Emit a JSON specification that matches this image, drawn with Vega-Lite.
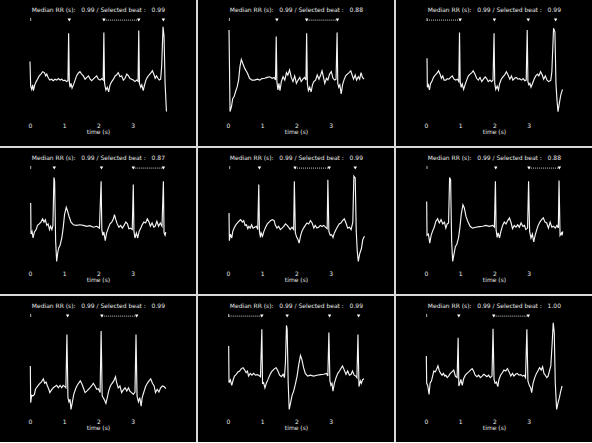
{
"$schema": "https://vega.github.io/schema/vega-lite/v6.json",
"padding": 0,
"background": "#d9d9d9",
"config": {"view": {"fill": "black", "stroke": null}, "font": "DejaVu Sans", "header": {"labels": false, "title": null, "labelFontSize": 0, "labelPadding": 0, "titlePadding": 0}},
"spacing": 2,
"columns": 3,
"data": {"values": [
{"p":1,"k":"l","t":2,"v":2.17,"s":"Median RR (s):\u00a0\u00a0\u00a00.99 / Selected beat :\u00a0\u00a0\u00a00.99"},
{"p":2,"k":"l","t":2,"v":2.17,"s":"Median RR (s):\u00a0\u00a0\u00a00.99 / Selected beat :\u00a0\u00a0\u00a00.88"},
{"p":3,"k":"l","t":2,"v":2.17,"s":"Median RR (s):\u00a0\u00a0\u00a00.99 / Selected beat :\u00a0\u00a0\u00a00.99"},
{"p":4,"k":"l","t":2,"v":2.17,"s":"Median RR (s):\u00a0\u00a0\u00a00.99 / Selected beat :\u00a0\u00a0\u00a00.87"},
{"p":5,"k":"l","t":2,"v":2.17,"s":"Median RR (s):\u00a0\u00a0\u00a00.99 / Selected beat :\u00a0\u00a0\u00a00.99"},
{"p":6,"k":"l","t":2,"v":2.17,"s":"Median RR (s):\u00a0\u00a0\u00a00.99 / Selected beat :\u00a0\u00a0\u00a00.88"},
{"p":7,"k":"l","t":2,"v":2.17,"s":"Median RR (s):\u00a0\u00a0\u00a00.99 / Selected beat :\u00a0\u00a0\u00a00.99"},
{"p":8,"k":"l","t":2,"v":2.17,"s":"Median RR (s):\u00a0\u00a0\u00a00.99 / Selected beat :\u00a0\u00a0\u00a00.99"},
{"p":9,"k":"l","t":2,"v":2.17,"s":"Median RR (s):\u00a0\u00a0\u00a00.99 / Selected beat :\u00a0\u00a0\u00a01.00"},
{"p":1,"k":"s","t":0.02,"v":1.85},{"p":1,"k":"b","t":1.15,"v":1.83},{"p":1,"k":"b","t":2.16,"v":1.83},{"p":1,"k":"b","t":3.18,"v":1.83},{"p":1,"k":"b","t":3.9,"v":1.83},{"p":1,"k":"d","t":2.16,"t2":3.18,"v":1.83},
{"p":2,"k":"s","t":0.04,"v":1.85},{"p":2,"k":"b","t":1.43,"v":1.83},{"p":2,"k":"b","t":2.3,"v":1.83},{"p":2,"k":"b","t":3.2,"v":1.83},{"p":2,"k":"d","t":2.3,"t2":3.2,"v":1.83},
{"p":3,"k":"s","t":0.03,"v":1.85},{"p":3,"k":"b","t":1.0,"v":1.83},{"p":3,"k":"b","t":2.0,"v":1.83},{"p":3,"k":"b","t":2.99,"v":1.83},{"p":3,"k":"b","t":3.79,"v":1.83},{"p":3,"k":"d","t":0.03,"t2":1.0,"v":1.83},
{"p":4,"k":"s","t":0.02,"v":1.85},{"p":4,"k":"b","t":0.71,"v":1.83},{"p":4,"k":"b","t":2.09,"v":1.83},{"p":4,"k":"b","t":3.02,"v":1.83},{"p":4,"k":"b","t":3.9,"v":1.83},{"p":4,"k":"d","t":3.02,"t2":3.9,"v":1.83},
{"p":5,"k":"s","t":0.05,"v":1.85},{"p":5,"k":"b","t":0.92,"v":1.83},{"p":5,"k":"b","t":1.96,"v":1.83},{"p":5,"k":"b","t":2.96,"v":1.83},{"p":5,"k":"b","t":3.72,"v":1.83},{"p":5,"k":"d","t":1.96,"t2":2.96,"v":1.83},
{"p":6,"k":"s","t":0.03,"v":1.85},{"p":6,"k":"b","t":2.04,"v":1.83},{"p":6,"k":"b","t":3.01,"v":1.83},{"p":6,"k":"b","t":3.9,"v":1.83},{"p":6,"k":"d","t":3.01,"t2":3.9,"v":1.83},
{"p":7,"k":"s","t":0.02,"v":1.85},{"p":7,"k":"b","t":1.1,"v":1.83},{"p":7,"k":"b","t":2.1,"v":1.83},{"p":7,"k":"b","t":3.12,"v":1.83},{"p":7,"k":"d","t":2.1,"t2":3.12,"v":1.83},
{"p":8,"k":"s","t":0.02,"v":1.85},{"p":8,"k":"b","t":0.99,"v":1.83},{"p":8,"k":"b","t":1.73,"v":1.83},{"p":8,"k":"b","t":2.97,"v":1.83},{"p":8,"k":"b","t":3.82,"v":1.83},{"p":8,"k":"d","t":0.02,"t2":0.99,"v":1.83},
{"p":9,"k":"s","t":0.02,"v":1.85},{"p":9,"k":"b","t":0.96,"v":1.83},{"p":9,"k":"b","t":1.98,"v":1.83},{"p":9,"k":"b","t":2.99,"v":1.83},{"p":9,"k":"d","t":1.98,"t2":2.99,"v":1.83},
{"p":1,"k":"e","t":0.0,"v":0.45},{"p":1,"k":"e","t":0.02,"v":-0.37},{"p":1,"k":"e","t":0.05,"v":-0.48},{"p":1,"k":"e","t":0.08,"v":-0.33},{"p":1,"k":"e","t":0.10,"v":-0.52},{"p":1,"k":"e","t":0.14,"v":-0.33},{"p":1,"k":"e","t":0.18,"v":-0.22},{"p":1,"k":"e","t":0.22,"v":-0.14},{"p":1,"k":"e","t":0.27,"v":-0.03},{"p":1,"k":"e","t":0.32,"v":0.03},{"p":1,"k":"e","t":0.37,"v":0.11},{"p":1,"k":"e","t":0.42,"v":0.08},{"p":1,"k":"e","t":0.46,"v":-0.03},{"p":1,"k":"e","t":0.49,"v":0.03},{"p":1,"k":"e","t":0.54,"v":-0.11},{"p":1,"k":"e","t":0.58,"v":-0.17},{"p":1,"k":"e","t":0.63,"v":-0.14},{"p":1,"k":"e","t":0.68,"v":-0.19},{"p":1,"k":"e","t":0.73,"v":-0.14},{"p":1,"k":"e","t":0.78,"v":-0.17},{"p":1,"k":"e","t":0.83,"v":-0.12},{"p":1,"k":"e","t":0.88,"v":-0.17},{"p":1,"k":"e","t":0.93,"v":-0.14},{"p":1,"k":"e","t":0.97,"v":-0.19},{"p":1,"k":"e","t":1.02,"v":-0.17},{"p":1,"k":"e","t":1.07,"v":-0.22},{"p":1,"k":"e","t":1.11,"v":-0.19},{"p":1,"k":"e","t":1.13,"v":1.39},{"p":1,"k":"e","t":1.15,"v":-0.22},{"p":1,"k":"e","t":1.17,"v":-0.41},{"p":1,"k":"e","t":1.20,"v":-0.28},{"p":1,"k":"e","t":1.23,"v":-0.44},{"p":1,"k":"e","t":1.27,"v":-0.33},{"p":1,"k":"e","t":1.32,"v":-0.17},{"p":1,"k":"e","t":1.36,"v":-0.03},{"p":1,"k":"e","t":1.41,"v":0.06},{"p":1,"k":"e","t":1.46,"v":0.11},{"p":1,"k":"e","t":1.51,"v":0.03},{"p":1,"k":"e","t":1.56,"v":-0.03},{"p":1,"k":"e","t":1.61,"v":-0.14},{"p":1,"k":"e","t":1.66,"v":-0.08},{"p":1,"k":"e","t":1.71,"v":-0.03},{"p":1,"k":"e","t":1.75,"v":-0.12},{"p":1,"k":"e","t":1.80,"v":-0.19},{"p":1,"k":"e","t":1.85,"v":-0.14},{"p":1,"k":"e","t":1.90,"v":-0.08},{"p":1,"k":"e","t":1.95,"v":-0.03},{"p":1,"k":"e","t":2.00,"v":-0.14},{"p":1,"k":"e","t":2.05,"v":-0.17},{"p":1,"k":"e","t":2.10,"v":-0.12},{"p":1,"k":"e","t":2.14,"v":-0.17},{"p":1,"k":"e","t":2.16,"v":1.42},{"p":1,"k":"e","t":2.18,"v":-0.28},{"p":1,"k":"e","t":2.22,"v":-0.50},{"p":1,"k":"e","t":2.26,"v":-0.41},{"p":1,"k":"e","t":2.30,"v":-0.56},{"p":1,"k":"e","t":2.34,"v":-0.33},{"p":1,"k":"e","t":2.39,"v":-0.22},{"p":1,"k":"e","t":2.44,"v":-0.14},{"p":1,"k":"e","t":2.49,"v":-0.03},{"p":1,"k":"e","t":2.53,"v":0.00},{"p":1,"k":"e","t":2.58,"v":0.08},{"p":1,"k":"e","t":2.63,"v":-0.06},{"p":1,"k":"e","t":2.68,"v":-0.03},{"p":1,"k":"e","t":2.73,"v":-0.17},{"p":1,"k":"e","t":2.78,"v":-0.11},{"p":1,"k":"e","t":2.83,"v":0.03},{"p":1,"k":"e","t":2.88,"v":-0.03},{"p":1,"k":"e","t":2.92,"v":-0.11},{"p":1,"k":"e","t":2.97,"v":-0.14},{"p":1,"k":"e","t":3.02,"v":-0.17},{"p":1,"k":"e","t":3.07,"v":-0.22},{"p":1,"k":"e","t":3.12,"v":-0.17},{"p":1,"k":"e","t":3.16,"v":-0.21},{"p":1,"k":"e","t":3.18,"v":1.48},{"p":1,"k":"e","t":3.20,"v":-0.28},{"p":1,"k":"e","t":3.24,"v":-0.41},{"p":1,"k":"e","t":3.27,"v":-0.33},{"p":1,"k":"e","t":3.31,"v":-0.52},{"p":1,"k":"e","t":3.35,"v":-0.33},{"p":1,"k":"e","t":3.39,"v":-0.17},{"p":1,"k":"e","t":3.43,"v":-0.08},{"p":1,"k":"e","t":3.48,"v":0.00},{"p":1,"k":"e","t":3.53,"v":0.06},{"p":1,"k":"e","t":3.58,"v":0.14},{"p":1,"k":"e","t":3.63,"v":0.00},{"p":1,"k":"e","t":3.66,"v":-0.11},{"p":1,"k":"e","t":3.70,"v":-0.03},{"p":1,"k":"e","t":3.74,"v":-0.11},{"p":1,"k":"e","t":3.78,"v":-0.17},{"p":1,"k":"e","t":3.82,"v":-0.14},{"p":1,"k":"e","t":3.85,"v":0.28},{"p":1,"k":"e","t":3.89,"v":1.61},{"p":1,"k":"e","t":3.92,"v":1.28},{"p":1,"k":"e","t":3.95,"v":-0.28},{"p":1,"k":"e","t":3.99,"v":-1.22},
{"p":2,"k":"e","t":0.03,"v":1.5},{"p":2,"k":"e","t":0.06,"v":-1.22},{"p":2,"k":"e","t":0.10,"v":-1.06},{"p":2,"k":"e","t":0.14,"v":-0.78},{"p":2,"k":"e","t":0.18,"v":-0.72},{"p":2,"k":"e","t":0.22,"v":-0.56},{"p":2,"k":"e","t":0.27,"v":-0.39},{"p":2,"k":"e","t":0.31,"v":-0.17},{"p":2,"k":"e","t":0.35,"v":0.28},{"p":2,"k":"e","t":0.39,"v":0.52},{"p":2,"k":"e","t":0.43,"v":0.39},{"p":2,"k":"e","t":0.49,"v":0.22},{"p":2,"k":"e","t":0.57,"v":0.06},{"p":2,"k":"e","t":0.63,"v":-0.11},{"p":2,"k":"e","t":0.70,"v":-0.17},{"p":2,"k":"e","t":0.78,"v":-0.17},{"p":2,"k":"e","t":0.86,"v":-0.14},{"p":2,"k":"e","t":0.93,"v":-0.17},{"p":2,"k":"e","t":0.99,"v":-0.12},{"p":2,"k":"e","t":1.07,"v":-0.11},{"p":2,"k":"e","t":1.15,"v":-0.08},{"p":2,"k":"e","t":1.22,"v":-0.06},{"p":2,"k":"e","t":1.29,"v":-0.11},{"p":2,"k":"e","t":1.35,"v":-0.08},{"p":2,"k":"e","t":1.39,"v":-0.17},{"p":2,"k":"e","t":1.41,"v":1.28},{"p":2,"k":"e","t":1.43,"v":-0.22},{"p":2,"k":"e","t":1.46,"v":-0.50},{"p":2,"k":"e","t":1.49,"v":-0.28},{"p":2,"k":"e","t":1.52,"v":-0.52},{"p":2,"k":"e","t":1.56,"v":-0.22},{"p":2,"k":"e","t":1.61,"v":-0.06},{"p":2,"k":"e","t":1.66,"v":-0.17},{"p":2,"k":"e","t":1.71,"v":0.08},{"p":2,"k":"e","t":1.75,"v":0.00},{"p":2,"k":"e","t":1.80,"v":0.17},{"p":2,"k":"e","t":1.85,"v":-0.08},{"p":2,"k":"e","t":1.90,"v":-0.22},{"p":2,"k":"e","t":1.95,"v":-0.03},{"p":2,"k":"e","t":2.00,"v":-0.28},{"p":2,"k":"e","t":2.05,"v":-0.17},{"p":2,"k":"e","t":2.10,"v":-0.08},{"p":2,"k":"e","t":2.14,"v":-0.22},{"p":2,"k":"e","t":2.19,"v":-0.14},{"p":2,"k":"e","t":2.24,"v":-0.08},{"p":2,"k":"e","t":2.28,"v":-0.17},{"p":2,"k":"e","t":2.30,"v":1.39},{"p":2,"k":"e","t":2.32,"v":-0.28},{"p":2,"k":"e","t":2.35,"v":-0.52},{"p":2,"k":"e","t":2.39,"v":-0.41},{"p":2,"k":"e","t":2.43,"v":-0.56},{"p":2,"k":"e","t":2.47,"v":-0.33},{"p":2,"k":"e","t":2.51,"v":-0.22},{"p":2,"k":"e","t":2.56,"v":-0.17},{"p":2,"k":"e","t":2.61,"v":0.00},{"p":2,"k":"e","t":2.66,"v":-0.14},{"p":2,"k":"e","t":2.71,"v":0.00},{"p":2,"k":"e","t":2.75,"v":0.14},{"p":2,"k":"e","t":2.79,"v":-0.06},{"p":2,"k":"e","t":2.83,"v":-0.28},{"p":2,"k":"e","t":2.88,"v":-0.11},{"p":2,"k":"e","t":2.92,"v":-0.17},{"p":2,"k":"e","t":2.97,"v":0.03},{"p":2,"k":"e","t":3.02,"v":0.11},{"p":2,"k":"e","t":3.07,"v":-0.11},{"p":2,"k":"e","t":3.12,"v":-0.17},{"p":2,"k":"e","t":3.16,"v":-0.14},{"p":2,"k":"e","t":3.19,"v":1.42},{"p":2,"k":"e","t":3.21,"v":-0.28},{"p":2,"k":"e","t":3.24,"v":-0.41},{"p":2,"k":"e","t":3.27,"v":-0.33},{"p":2,"k":"e","t":3.31,"v":-0.63},{"p":2,"k":"e","t":3.35,"v":-0.33},{"p":2,"k":"e","t":3.39,"v":-0.17},{"p":2,"k":"e","t":3.44,"v":-0.03},{"p":2,"k":"e","t":3.49,"v":0.03},{"p":2,"k":"e","t":3.54,"v":0.08},{"p":2,"k":"e","t":3.59,"v":0.14},{"p":2,"k":"e","t":3.63,"v":0.00},{"p":2,"k":"e","t":3.67,"v":-0.14},{"p":2,"k":"e","t":3.72,"v":0.00},{"p":2,"k":"e","t":3.76,"v":-0.17},{"p":2,"k":"e","t":3.81,"v":-0.06},{"p":2,"k":"e","t":3.85,"v":-0.14},{"p":2,"k":"e","t":3.89,"v":0.08},{"p":2,"k":"e","t":3.93,"v":-0.08},{"p":2,"k":"e","t":3.98,"v":-0.14},
{"p":3,"k":"e","t":0.03,"v":0.56},{"p":3,"k":"e","t":0.04,"v":-0.41},{"p":3,"k":"e","t":0.07,"v":-0.33},{"p":3,"k":"e","t":0.10,"v":-0.50},{"p":3,"k":"e","t":0.13,"v":-0.30},{"p":3,"k":"e","t":0.18,"v":-0.19},{"p":3,"k":"e","t":0.22,"v":-0.08},{"p":3,"k":"e","t":0.27,"v":0.00},{"p":3,"k":"e","t":0.32,"v":0.06},{"p":3,"k":"e","t":0.37,"v":0.14},{"p":3,"k":"e","t":0.42,"v":0.00},{"p":3,"k":"e","t":0.45,"v":-0.11},{"p":3,"k":"e","t":0.49,"v":-0.03},{"p":3,"k":"e","t":0.53,"v":-0.17},{"p":3,"k":"e","t":0.58,"v":-0.17},{"p":3,"k":"e","t":0.62,"v":-0.12},{"p":3,"k":"e","t":0.67,"v":-0.14},{"p":3,"k":"e","t":0.72,"v":-0.08},{"p":3,"k":"e","t":0.77,"v":-0.03},{"p":3,"k":"e","t":0.82,"v":-0.14},{"p":3,"k":"e","t":0.87,"v":-0.17},{"p":3,"k":"e","t":0.92,"v":-0.14},{"p":3,"k":"e","t":0.96,"v":-0.22},{"p":3,"k":"e","t":0.98,"v":1.42},{"p":3,"k":"e","t":1.00,"v":-0.22},{"p":3,"k":"e","t":1.03,"v":-0.41},{"p":3,"k":"e","t":1.06,"v":-0.30},{"p":3,"k":"e","t":1.10,"v":-0.48},{"p":3,"k":"e","t":1.14,"v":-0.33},{"p":3,"k":"e","t":1.19,"v":-0.17},{"p":3,"k":"e","t":1.24,"v":-0.03},{"p":3,"k":"e","t":1.29,"v":0.03},{"p":3,"k":"e","t":1.34,"v":0.08},{"p":3,"k":"e","t":1.38,"v":0.14},{"p":3,"k":"e","t":1.43,"v":0.03},{"p":3,"k":"e","t":1.48,"v":-0.11},{"p":3,"k":"e","t":1.53,"v":-0.17},{"p":3,"k":"e","t":1.58,"v":-0.08},{"p":3,"k":"e","t":1.63,"v":-0.22},{"p":3,"k":"e","t":1.68,"v":-0.14},{"p":3,"k":"e","t":1.73,"v":-0.06},{"p":3,"k":"e","t":1.77,"v":-0.11},{"p":3,"k":"e","t":1.82,"v":-0.22},{"p":3,"k":"e","t":1.87,"v":-0.17},{"p":3,"k":"e","t":1.92,"v":-0.22},{"p":3,"k":"e","t":1.96,"v":-0.17},{"p":3,"k":"e","t":1.99,"v":1.39},{"p":3,"k":"e","t":2.01,"v":-0.28},{"p":3,"k":"e","t":2.04,"v":-0.48},{"p":3,"k":"e","t":2.08,"v":-0.37},{"p":3,"k":"e","t":2.12,"v":-0.50},{"p":3,"k":"e","t":2.15,"v":-0.30},{"p":3,"k":"e","t":2.20,"v":-0.14},{"p":3,"k":"e","t":2.25,"v":-0.06},{"p":3,"k":"e","t":2.30,"v":0.00},{"p":3,"k":"e","t":2.35,"v":0.11},{"p":3,"k":"e","t":2.40,"v":0.00},{"p":3,"k":"e","t":2.45,"v":-0.14},{"p":3,"k":"e","t":2.50,"v":-0.03},{"p":3,"k":"e","t":2.54,"v":-0.17},{"p":3,"k":"e","t":2.59,"v":-0.11},{"p":3,"k":"e","t":2.64,"v":-0.08},{"p":3,"k":"e","t":2.69,"v":-0.14},{"p":3,"k":"e","t":2.74,"v":-0.12},{"p":3,"k":"e","t":2.79,"v":-0.17},{"p":3,"k":"e","t":2.84,"v":-0.12},{"p":3,"k":"e","t":2.89,"v":-0.19},{"p":3,"k":"e","t":2.93,"v":-0.17},{"p":3,"k":"e","t":2.96,"v":1.50},{"p":3,"k":"e","t":2.98,"v":-0.22},{"p":3,"k":"e","t":3.01,"v":-0.33},{"p":3,"k":"e","t":3.04,"v":-0.28},{"p":3,"k":"e","t":3.07,"v":-0.41},{"p":3,"k":"e","t":3.11,"v":-0.30},{"p":3,"k":"e","t":3.16,"v":-0.14},{"p":3,"k":"e","t":3.21,"v":-0.03},{"p":3,"k":"e","t":3.26,"v":0.03},{"p":3,"k":"e","t":3.30,"v":-0.03},{"p":3,"k":"e","t":3.35,"v":0.11},{"p":3,"k":"e","t":3.40,"v":0.00},{"p":3,"k":"e","t":3.44,"v":-0.14},{"p":3,"k":"e","t":3.49,"v":-0.03},{"p":3,"k":"e","t":3.54,"v":-0.17},{"p":3,"k":"e","t":3.59,"v":-0.22},{"p":3,"k":"e","t":3.65,"v":-0.17},{"p":3,"k":"e","t":3.68,"v":0.11},{"p":3,"k":"e","t":3.73,"v":1.56},{"p":3,"k":"e","t":3.77,"v":1.44},{"p":3,"k":"e","t":3.80,"v":-0.28},{"p":3,"k":"e","t":3.83,"v":-0.83},{"p":3,"k":"e","t":3.86,"v":-1.22},{"p":3,"k":"e","t":3.90,"v":-0.94},{"p":3,"k":"e","t":3.94,"v":-0.67},{"p":3,"k":"e","t":3.99,"v":-0.48},
{"p":4,"k":"e","t":0.02,"v":0.67},{"p":4,"k":"e","t":0.03,"v":-0.37},{"p":4,"k":"e","t":0.06,"v":-0.28},{"p":4,"k":"e","t":0.09,"v":-0.50},{"p":4,"k":"e","t":0.13,"v":-0.30},{"p":4,"k":"e","t":0.18,"v":-0.22},{"p":4,"k":"e","t":0.22,"v":-0.08},{"p":4,"k":"e","t":0.27,"v":-0.03},{"p":4,"k":"e","t":0.32,"v":0.03},{"p":4,"k":"e","t":0.37,"v":0.14},{"p":4,"k":"e","t":0.41,"v":0.03},{"p":4,"k":"e","t":0.45,"v":0.11},{"p":4,"k":"e","t":0.49,"v":-0.08},{"p":4,"k":"e","t":0.53,"v":-0.03},{"p":4,"k":"e","t":0.57,"v":-0.22},{"p":4,"k":"e","t":0.60,"v":-0.11},{"p":4,"k":"e","t":0.64,"v":-0.22},{"p":4,"k":"e","t":0.67,"v":-0.08},{"p":4,"k":"e","t":0.70,"v":1.52},{"p":4,"k":"e","t":0.72,"v":1.39},{"p":4,"k":"e","t":0.75,"v":-0.61},{"p":4,"k":"e","t":0.78,"v":-1.28},{"p":4,"k":"e","t":0.81,"v":-1.00},{"p":4,"k":"e","t":0.84,"v":-0.83},{"p":4,"k":"e","t":0.88,"v":-0.74},{"p":4,"k":"e","t":0.93,"v":-0.50},{"p":4,"k":"e","t":0.97,"v":-0.17},{"p":4,"k":"e","t":1.01,"v":0.28},{"p":4,"k":"e","t":1.06,"v":0.52},{"p":4,"k":"e","t":1.10,"v":0.39},{"p":4,"k":"e","t":1.15,"v":0.19},{"p":4,"k":"e","t":1.20,"v":0.03},{"p":4,"k":"e","t":1.27,"v":-0.06},{"p":4,"k":"e","t":1.36,"v":-0.08},{"p":4,"k":"e","t":1.46,"v":-0.06},{"p":4,"k":"e","t":1.56,"v":-0.08},{"p":4,"k":"e","t":1.66,"v":-0.11},{"p":4,"k":"e","t":1.75,"v":-0.09},{"p":4,"k":"e","t":1.85,"v":-0.14},{"p":4,"k":"e","t":1.95,"v":-0.11},{"p":4,"k":"e","t":2.03,"v":-0.17},{"p":4,"k":"e","t":2.08,"v":1.39},{"p":4,"k":"e","t":2.10,"v":-0.22},{"p":4,"k":"e","t":2.13,"v":-0.41},{"p":4,"k":"e","t":2.16,"v":-0.30},{"p":4,"k":"e","t":2.20,"v":-0.59},{"p":4,"k":"e","t":2.24,"v":-0.33},{"p":4,"k":"e","t":2.29,"v":-0.17},{"p":4,"k":"e","t":2.34,"v":-0.03},{"p":4,"k":"e","t":2.39,"v":0.03},{"p":4,"k":"e","t":2.44,"v":0.14},{"p":4,"k":"e","t":2.47,"v":0.28},{"p":4,"k":"e","t":2.51,"v":0.11},{"p":4,"k":"e","t":2.55,"v":-0.03},{"p":4,"k":"e","t":2.60,"v":-0.14},{"p":4,"k":"e","t":2.65,"v":-0.08},{"p":4,"k":"e","t":2.70,"v":-0.17},{"p":4,"k":"e","t":2.75,"v":-0.08},{"p":4,"k":"e","t":2.80,"v":0.03},{"p":4,"k":"e","t":2.85,"v":-0.03},{"p":4,"k":"e","t":2.89,"v":-0.19},{"p":4,"k":"e","t":2.94,"v":-0.17},{"p":4,"k":"e","t":2.99,"v":-0.22},{"p":4,"k":"e","t":3.02,"v":1.28},{"p":4,"k":"e","t":3.04,"v":-0.28},{"p":4,"k":"e","t":3.07,"v":-0.50},{"p":4,"k":"e","t":3.11,"v":-0.33},{"p":4,"k":"e","t":3.15,"v":-0.50},{"p":4,"k":"e","t":3.19,"v":-0.28},{"p":4,"k":"e","t":3.24,"v":-0.17},{"p":4,"k":"e","t":3.28,"v":-0.06},{"p":4,"k":"e","t":3.33,"v":0.03},{"p":4,"k":"e","t":3.38,"v":0.00},{"p":4,"k":"e","t":3.43,"v":0.14},{"p":4,"k":"e","t":3.48,"v":0.03},{"p":4,"k":"e","t":3.52,"v":-0.11},{"p":4,"k":"e","t":3.57,"v":0.00},{"p":4,"k":"e","t":3.62,"v":-0.14},{"p":4,"k":"e","t":3.66,"v":-0.11},{"p":4,"k":"e","t":3.71,"v":0.06},{"p":4,"k":"e","t":3.76,"v":-0.11},{"p":4,"k":"e","t":3.81,"v":0.00},{"p":4,"k":"e","t":3.86,"v":-0.11},{"p":4,"k":"e","t":3.90,"v":1.39},{"p":4,"k":"e","t":3.92,"v":-0.33},{"p":4,"k":"e","t":3.95,"v":-0.41},{"p":4,"k":"e","t":3.97,"v":-0.30},
{"p":5,"k":"e","t":0.03,"v":0.33},{"p":5,"k":"e","t":0.04,"v":-0.59},{"p":5,"k":"e","t":0.07,"v":-0.37},{"p":5,"k":"e","t":0.11,"v":-0.50},{"p":5,"k":"e","t":0.14,"v":-0.28},{"p":5,"k":"e","t":0.18,"v":-0.17},{"p":5,"k":"e","t":0.22,"v":-0.08},{"p":5,"k":"e","t":0.27,"v":0.00},{"p":5,"k":"e","t":0.32,"v":0.06},{"p":5,"k":"e","t":0.37,"v":0.11},{"p":5,"k":"e","t":0.42,"v":0.03},{"p":5,"k":"e","t":0.46,"v":0.08},{"p":5,"k":"e","t":0.50,"v":-0.08},{"p":5,"k":"e","t":0.54,"v":-0.06},{"p":5,"k":"e","t":0.58,"v":-0.19},{"p":5,"k":"e","t":0.61,"v":-0.11},{"p":5,"k":"e","t":0.65,"v":-0.17},{"p":5,"k":"e","t":0.69,"v":-0.06},{"p":5,"k":"e","t":0.73,"v":-0.17},{"p":5,"k":"e","t":0.78,"v":-0.14},{"p":5,"k":"e","t":0.83,"v":-0.11},{"p":5,"k":"e","t":0.87,"v":-0.22},{"p":5,"k":"e","t":0.90,"v":1.28},{"p":5,"k":"e","t":0.92,"v":-0.28},{"p":5,"k":"e","t":0.95,"v":-0.48},{"p":5,"k":"e","t":0.97,"v":-0.33},{"p":5,"k":"e","t":1.01,"v":-0.44},{"p":5,"k":"e","t":1.05,"v":-0.28},{"p":5,"k":"e","t":1.10,"v":-0.14},{"p":5,"k":"e","t":1.15,"v":-0.03},{"p":5,"k":"e","t":1.20,"v":0.03},{"p":5,"k":"e","t":1.25,"v":0.08},{"p":5,"k":"e","t":1.30,"v":0.11},{"p":5,"k":"e","t":1.35,"v":0.08},{"p":5,"k":"e","t":1.38,"v":-0.06},{"p":5,"k":"e","t":1.43,"v":-0.17},{"p":5,"k":"e","t":1.48,"v":-0.11},{"p":5,"k":"e","t":1.53,"v":-0.22},{"p":5,"k":"e","t":1.58,"v":-0.17},{"p":5,"k":"e","t":1.63,"v":-0.11},{"p":5,"k":"e","t":1.68,"v":-0.03},{"p":5,"k":"e","t":1.73,"v":-0.08},{"p":5,"k":"e","t":1.77,"v":-0.14},{"p":5,"k":"e","t":1.82,"v":-0.22},{"p":5,"k":"e","t":1.87,"v":-0.14},{"p":5,"k":"e","t":1.92,"v":-0.22},{"p":5,"k":"e","t":1.94,"v":1.39},{"p":5,"k":"e","t":1.97,"v":-0.33},{"p":5,"k":"e","t":2.01,"v":-0.48},{"p":5,"k":"e","t":2.05,"v":-0.56},{"p":5,"k":"e","t":2.08,"v":-0.67},{"p":5,"k":"e","t":2.12,"v":-0.44},{"p":5,"k":"e","t":2.16,"v":-0.28},{"p":5,"k":"e","t":2.21,"v":-0.17},{"p":5,"k":"e","t":2.26,"v":-0.08},{"p":5,"k":"e","t":2.31,"v":0.00},{"p":5,"k":"e","t":2.36,"v":-0.03},{"p":5,"k":"e","t":2.41,"v":0.08},{"p":5,"k":"e","t":2.46,"v":0.00},{"p":5,"k":"e","t":2.51,"v":-0.17},{"p":5,"k":"e","t":2.55,"v":-0.08},{"p":5,"k":"e","t":2.60,"v":-0.17},{"p":5,"k":"e","t":2.65,"v":-0.14},{"p":5,"k":"e","t":2.70,"v":-0.08},{"p":5,"k":"e","t":2.75,"v":-0.12},{"p":5,"k":"e","t":2.80,"v":-0.08},{"p":5,"k":"e","t":2.85,"v":-0.14},{"p":5,"k":"e","t":2.90,"v":-0.19},{"p":5,"k":"e","t":2.92,"v":1.44},{"p":5,"k":"e","t":2.95,"v":-0.28},{"p":5,"k":"e","t":2.99,"v":-0.41},{"p":5,"k":"e","t":3.03,"v":-0.39},{"p":5,"k":"e","t":3.07,"v":-0.48},{"p":5,"k":"e","t":3.11,"v":-0.33},{"p":5,"k":"e","t":3.16,"v":-0.22},{"p":5,"k":"e","t":3.21,"v":-0.11},{"p":5,"k":"e","t":3.25,"v":-0.03},{"p":5,"k":"e","t":3.30,"v":0.00},{"p":5,"k":"e","t":3.35,"v":0.08},{"p":5,"k":"e","t":3.40,"v":0.14},{"p":5,"k":"e","t":3.45,"v":0.00},{"p":5,"k":"e","t":3.50,"v":-0.17},{"p":5,"k":"e","t":3.55,"v":-0.14},{"p":5,"k":"e","t":3.60,"v":-0.22},{"p":5,"k":"e","t":3.65,"v":0.03},{"p":5,"k":"e","t":3.68,"v":1.56},{"p":5,"k":"e","t":3.72,"v":1.50},{"p":5,"k":"e","t":3.75,"v":-0.28},{"p":5,"k":"e","t":3.78,"v":-0.94},{"p":5,"k":"e","t":3.81,"v":-1.28},{"p":5,"k":"e","t":3.85,"v":-1.03},{"p":5,"k":"e","t":3.90,"v":-0.86},{"p":5,"k":"e","t":3.94,"v":-0.56},{"p":5,"k":"e","t":3.99,"v":-0.44},
{"p":6,"k":"e","t":0.02,"v":0.72},{"p":6,"k":"e","t":0.03,"v":-0.41},{"p":6,"k":"e","t":0.07,"v":-0.37},{"p":6,"k":"e","t":0.11,"v":-0.67},{"p":6,"k":"e","t":0.15,"v":-0.41},{"p":6,"k":"e","t":0.19,"v":-0.28},{"p":6,"k":"e","t":0.24,"v":-0.14},{"p":6,"k":"e","t":0.29,"v":0.06},{"p":6,"k":"e","t":0.34,"v":0.14},{"p":6,"k":"e","t":0.39,"v":0.00},{"p":6,"k":"e","t":0.44,"v":0.11},{"p":6,"k":"e","t":0.49,"v":-0.03},{"p":6,"k":"e","t":0.54,"v":0.03},{"p":6,"k":"e","t":0.58,"v":-0.17},{"p":6,"k":"e","t":0.62,"v":-0.03},{"p":6,"k":"e","t":0.66,"v":0.00},{"p":6,"k":"e","t":0.69,"v":1.52},{"p":6,"k":"e","t":0.72,"v":1.44},{"p":6,"k":"e","t":0.75,"v":-0.61},{"p":6,"k":"e","t":0.78,"v":-1.28},{"p":6,"k":"e","t":0.82,"v":-1.03},{"p":6,"k":"e","t":0.86,"v":-0.78},{"p":6,"k":"e","t":0.90,"v":-0.72},{"p":6,"k":"e","t":0.95,"v":-0.50},{"p":6,"k":"e","t":0.99,"v":-0.17},{"p":6,"k":"e","t":1.03,"v":0.28},{"p":6,"k":"e","t":1.08,"v":0.61},{"p":6,"k":"e","t":1.12,"v":0.50},{"p":6,"k":"e","t":1.17,"v":0.22},{"p":6,"k":"e","t":1.22,"v":0.06},{"p":6,"k":"e","t":1.29,"v":-0.11},{"p":6,"k":"e","t":1.36,"v":-0.17},{"p":6,"k":"e","t":1.46,"v":-0.14},{"p":6,"k":"e","t":1.56,"v":-0.12},{"p":6,"k":"e","t":1.66,"v":-0.11},{"p":6,"k":"e","t":1.75,"v":-0.08},{"p":6,"k":"e","t":1.85,"v":-0.11},{"p":6,"k":"e","t":1.95,"v":-0.08},{"p":6,"k":"e","t":2.00,"v":-0.14},{"p":6,"k":"e","t":2.03,"v":1.39},{"p":6,"k":"e","t":2.05,"v":-0.22},{"p":6,"k":"e","t":2.08,"v":-0.48},{"p":6,"k":"e","t":2.11,"v":-0.33},{"p":6,"k":"e","t":2.15,"v":-0.50},{"p":6,"k":"e","t":2.19,"v":-0.28},{"p":6,"k":"e","t":2.24,"v":-0.08},{"p":6,"k":"e","t":2.29,"v":0.03},{"p":6,"k":"e","t":2.34,"v":-0.03},{"p":6,"k":"e","t":2.39,"v":0.08},{"p":6,"k":"e","t":2.44,"v":0.17},{"p":6,"k":"e","t":2.49,"v":0.00},{"p":6,"k":"e","t":2.53,"v":-0.19},{"p":6,"k":"e","t":2.58,"v":-0.08},{"p":6,"k":"e","t":2.63,"v":-0.14},{"p":6,"k":"e","t":2.68,"v":-0.06},{"p":6,"k":"e","t":2.73,"v":-0.14},{"p":6,"k":"e","t":2.78,"v":0.00},{"p":6,"k":"e","t":2.83,"v":-0.11},{"p":6,"k":"e","t":2.88,"v":-0.08},{"p":6,"k":"e","t":2.92,"v":-0.22},{"p":6,"k":"e","t":2.97,"v":-0.17},{"p":6,"k":"e","t":3.00,"v":1.39},{"p":6,"k":"e","t":3.03,"v":-0.28},{"p":6,"k":"e","t":3.07,"v":-0.50},{"p":6,"k":"e","t":3.11,"v":-0.37},{"p":6,"k":"e","t":3.15,"v":-0.63},{"p":6,"k":"e","t":3.19,"v":-0.41},{"p":6,"k":"e","t":3.24,"v":-0.22},{"p":6,"k":"e","t":3.28,"v":-0.08},{"p":6,"k":"e","t":3.33,"v":0.03},{"p":6,"k":"e","t":3.38,"v":0.11},{"p":6,"k":"e","t":3.43,"v":0.17},{"p":6,"k":"e","t":3.48,"v":0.03},{"p":6,"k":"e","t":3.53,"v":0.00},{"p":6,"k":"e","t":3.58,"v":-0.17},{"p":6,"k":"e","t":3.63,"v":0.03},{"p":6,"k":"e","t":3.68,"v":-0.14},{"p":6,"k":"e","t":3.73,"v":-0.11},{"p":6,"k":"e","t":3.78,"v":-0.17},{"p":6,"k":"e","t":3.83,"v":-0.08},{"p":6,"k":"e","t":3.87,"v":-0.17},{"p":6,"k":"e","t":3.89,"v":1.42},{"p":6,"k":"e","t":3.92,"v":-0.41},{"p":6,"k":"e","t":3.96,"v":-0.33},{"p":6,"k":"e","t":3.98,"v":-0.41},{"p":6,"k":"e","t":4.00,"v":-0.28},
{"p":7,"k":"e","t":0.01,"v":0.17},{"p":7,"k":"e","t":0.02,"v":-1.06},{"p":7,"k":"e","t":0.05,"v":-0.81},{"p":7,"k":"e","t":0.09,"v":-0.83},{"p":7,"k":"e","t":0.13,"v":-0.78},{"p":7,"k":"e","t":0.16,"v":-0.61},{"p":7,"k":"e","t":0.19,"v":-0.56},{"p":7,"k":"e","t":0.24,"v":-0.48},{"p":7,"k":"e","t":0.29,"v":-0.41},{"p":7,"k":"e","t":0.33,"v":-0.37},{"p":7,"k":"e","t":0.39,"v":-0.26},{"p":7,"k":"e","t":0.43,"v":-0.41},{"p":7,"k":"e","t":0.47,"v":-0.37},{"p":7,"k":"e","t":0.51,"v":-0.50},{"p":7,"k":"e","t":0.55,"v":-0.61},{"p":7,"k":"e","t":0.58,"v":-0.72},{"p":7,"k":"e","t":0.63,"v":-0.63},{"p":7,"k":"e","t":0.68,"v":-0.56},{"p":7,"k":"e","t":0.73,"v":-0.52},{"p":7,"k":"e","t":0.78,"v":-0.48},{"p":7,"k":"e","t":0.83,"v":-0.56},{"p":7,"k":"e","t":0.88,"v":-0.48},{"p":7,"k":"e","t":0.93,"v":-0.56},{"p":7,"k":"e","t":0.97,"v":-0.48},{"p":7,"k":"e","t":1.02,"v":-0.52},{"p":7,"k":"e","t":1.05,"v":-0.56},{"p":7,"k":"e","t":1.08,"v":1.22},{"p":7,"k":"e","t":1.11,"v":-0.89},{"p":7,"k":"e","t":1.14,"v":-1.03},{"p":7,"k":"e","t":1.17,"v":-0.94},{"p":7,"k":"e","t":1.20,"v":-1.28},{"p":7,"k":"e","t":1.24,"v":-1.03},{"p":7,"k":"e","t":1.28,"v":-0.78},{"p":7,"k":"e","t":1.33,"v":-0.61},{"p":7,"k":"e","t":1.37,"v":-0.50},{"p":7,"k":"e","t":1.42,"v":-0.41},{"p":7,"k":"e","t":1.47,"v":-0.33},{"p":7,"k":"e","t":1.51,"v":-0.41},{"p":7,"k":"e","t":1.56,"v":-0.56},{"p":7,"k":"e","t":1.61,"v":-0.72},{"p":7,"k":"e","t":1.66,"v":-0.67},{"p":7,"k":"e","t":1.71,"v":-0.61},{"p":7,"k":"e","t":1.75,"v":-0.56},{"p":7,"k":"e","t":1.80,"v":-0.50},{"p":7,"k":"e","t":1.85,"v":-0.41},{"p":7,"k":"e","t":1.90,"v":-0.50},{"p":7,"k":"e","t":1.95,"v":-0.61},{"p":7,"k":"e","t":2.00,"v":-0.59},{"p":7,"k":"e","t":2.05,"v":-0.72},{"p":7,"k":"e","t":2.08,"v":1.33},{"p":7,"k":"e","t":2.11,"v":-0.83},{"p":7,"k":"e","t":2.14,"v":-0.89},{"p":7,"k":"e","t":2.18,"v":-0.97},{"p":7,"k":"e","t":2.22,"v":-1.08},{"p":7,"k":"e","t":2.26,"v":-0.89},{"p":7,"k":"e","t":2.30,"v":-0.67},{"p":7,"k":"e","t":2.35,"v":-0.50},{"p":7,"k":"e","t":2.40,"v":-0.41},{"p":7,"k":"e","t":2.45,"v":-0.33},{"p":7,"k":"e","t":2.50,"v":-0.19},{"p":7,"k":"e","t":2.53,"v":-0.37},{"p":7,"k":"e","t":2.58,"v":-0.56},{"p":7,"k":"e","t":2.63,"v":-0.50},{"p":7,"k":"e","t":2.68,"v":-0.72},{"p":7,"k":"e","t":2.73,"v":-0.63},{"p":7,"k":"e","t":2.78,"v":-0.56},{"p":7,"k":"e","t":2.83,"v":-0.67},{"p":7,"k":"e","t":2.88,"v":-0.56},{"p":7,"k":"e","t":2.92,"v":-0.67},{"p":7,"k":"e","t":2.97,"v":-0.72},{"p":7,"k":"e","t":3.02,"v":-0.78},{"p":7,"k":"e","t":3.07,"v":-0.70},{"p":7,"k":"e","t":3.10,"v":1.22},{"p":7,"k":"e","t":3.13,"v":-0.83},{"p":7,"k":"e","t":3.17,"v":-1.03},{"p":7,"k":"e","t":3.21,"v":-0.89},{"p":7,"k":"e","t":3.25,"v":-1.17},{"p":7,"k":"e","t":3.28,"v":-0.89},{"p":7,"k":"e","t":3.33,"v":-0.70},{"p":7,"k":"e","t":3.38,"v":-0.52},{"p":7,"k":"e","t":3.43,"v":-0.41},{"p":7,"k":"e","t":3.48,"v":-0.33},{"p":7,"k":"e","t":3.53,"v":-0.26},{"p":7,"k":"e","t":3.58,"v":-0.41},{"p":7,"k":"e","t":3.63,"v":-0.50},{"p":7,"k":"e","t":3.67,"v":-0.72},{"p":7,"k":"e","t":3.72,"v":-0.61},{"p":7,"k":"e","t":3.77,"v":-0.70},{"p":7,"k":"e","t":3.82,"v":-0.56},{"p":7,"k":"e","t":3.87,"v":-0.50},{"p":7,"k":"e","t":3.92,"v":-0.52},{"p":7,"k":"e","t":3.97,"v":-0.59},
{"p":8,"k":"e","t":0.02,"v":0.83},{"p":8,"k":"e","t":0.03,"v":-0.39},{"p":8,"k":"e","t":0.07,"v":-0.30},{"p":8,"k":"e","t":0.11,"v":-0.48},{"p":8,"k":"e","t":0.15,"v":-0.30},{"p":8,"k":"e","t":0.19,"v":-0.17},{"p":8,"k":"e","t":0.24,"v":-0.11},{"p":8,"k":"e","t":0.29,"v":-0.03},{"p":8,"k":"e","t":0.34,"v":0.00},{"p":8,"k":"e","t":0.39,"v":0.08},{"p":8,"k":"e","t":0.44,"v":0.11},{"p":8,"k":"e","t":0.49,"v":0.03},{"p":8,"k":"e","t":0.53,"v":-0.06},{"p":8,"k":"e","t":0.57,"v":0.00},{"p":8,"k":"e","t":0.60,"v":-0.17},{"p":8,"k":"e","t":0.65,"v":-0.08},{"p":8,"k":"e","t":0.70,"v":-0.14},{"p":8,"k":"e","t":0.75,"v":-0.08},{"p":8,"k":"e","t":0.80,"v":-0.14},{"p":8,"k":"e","t":0.85,"v":-0.12},{"p":8,"k":"e","t":0.90,"v":-0.14},{"p":8,"k":"e","t":0.95,"v":-0.19},{"p":8,"k":"e","t":0.99,"v":1.39},{"p":8,"k":"e","t":1.01,"v":-0.41},{"p":8,"k":"e","t":1.04,"v":-0.39},{"p":8,"k":"e","t":1.08,"v":-0.56},{"p":8,"k":"e","t":1.12,"v":-0.41},{"p":8,"k":"e","t":1.17,"v":-0.28},{"p":8,"k":"e","t":1.22,"v":-0.14},{"p":8,"k":"e","t":1.27,"v":-0.03},{"p":8,"k":"e","t":1.32,"v":0.03},{"p":8,"k":"e","t":1.36,"v":0.08},{"p":8,"k":"e","t":1.41,"v":0.11},{"p":8,"k":"e","t":1.46,"v":0.00},{"p":8,"k":"e","t":1.51,"v":-0.14},{"p":8,"k":"e","t":1.56,"v":-0.19},{"p":8,"k":"e","t":1.61,"v":-0.11},{"p":8,"k":"e","t":1.65,"v":-0.22},{"p":8,"k":"e","t":1.68,"v":0.28},{"p":8,"k":"e","t":1.71,"v":1.52},{"p":8,"k":"e","t":1.73,"v":1.39},{"p":8,"k":"e","t":1.76,"v":-0.39},{"p":8,"k":"e","t":1.79,"v":-1.28},{"p":8,"k":"e","t":1.83,"v":-1.06},{"p":8,"k":"e","t":1.87,"v":-0.83},{"p":8,"k":"e","t":1.92,"v":-0.67},{"p":8,"k":"e","t":1.97,"v":-0.44},{"p":8,"k":"e","t":2.02,"v":-0.17},{"p":8,"k":"e","t":2.07,"v":0.22},{"p":8,"k":"e","t":2.12,"v":0.52},{"p":8,"k":"e","t":2.16,"v":0.39},{"p":8,"k":"e","t":2.21,"v":0.11},{"p":8,"k":"e","t":2.26,"v":-0.08},{"p":8,"k":"e","t":2.33,"v":-0.17},{"p":8,"k":"e","t":2.41,"v":-0.14},{"p":8,"k":"e","t":2.50,"v":-0.17},{"p":8,"k":"e","t":2.60,"v":-0.14},{"p":8,"k":"e","t":2.70,"v":-0.12},{"p":8,"k":"e","t":2.80,"v":-0.11},{"p":8,"k":"e","t":2.88,"v":-0.08},{"p":8,"k":"e","t":2.92,"v":-0.17},{"p":8,"k":"e","t":2.95,"v":1.28},{"p":8,"k":"e","t":2.98,"v":-0.33},{"p":8,"k":"e","t":3.01,"v":-0.48},{"p":8,"k":"e","t":3.04,"v":-0.41},{"p":8,"k":"e","t":3.07,"v":-0.67},{"p":8,"k":"e","t":3.11,"v":-0.41},{"p":8,"k":"e","t":3.16,"v":-0.22},{"p":8,"k":"e","t":3.21,"v":-0.08},{"p":8,"k":"e","t":3.26,"v":0.00},{"p":8,"k":"e","t":3.30,"v":0.08},{"p":8,"k":"e","t":3.35,"v":0.17},{"p":8,"k":"e","t":3.40,"v":0.03},{"p":8,"k":"e","t":3.45,"v":-0.11},{"p":8,"k":"e","t":3.50,"v":0.00},{"p":8,"k":"e","t":3.55,"v":-0.14},{"p":8,"k":"e","t":3.60,"v":-0.11},{"p":8,"k":"e","t":3.64,"v":0.00},{"p":8,"k":"e","t":3.69,"v":-0.14},{"p":8,"k":"e","t":3.74,"v":-0.17},{"p":8,"k":"e","t":3.77,"v":-0.22},{"p":8,"k":"e","t":3.80,"v":1.22},{"p":8,"k":"e","t":3.83,"v":-0.52},{"p":8,"k":"e","t":3.87,"v":-0.33},{"p":8,"k":"e","t":3.90,"v":-0.41},{"p":8,"k":"e","t":3.94,"v":-0.28},{"p":8,"k":"e","t":3.98,"v":-0.26},
{"p":9,"k":"e","t":0.01,"v":0.50},{"p":9,"k":"e","t":0.02,"v":-0.41},{"p":9,"k":"e","t":0.05,"v":-0.48},{"p":9,"k":"e","t":0.09,"v":-0.78},{"p":9,"k":"e","t":0.12,"v":-0.41},{"p":9,"k":"e","t":0.16,"v":-0.33},{"p":9,"k":"e","t":0.19,"v":-0.19},{"p":9,"k":"e","t":0.23,"v":0.00},{"p":9,"k":"e","t":0.27,"v":-0.03},{"p":9,"k":"e","t":0.31,"v":0.06},{"p":9,"k":"e","t":0.35,"v":0.17},{"p":9,"k":"e","t":0.39,"v":0.00},{"p":9,"k":"e","t":0.43,"v":-0.08},{"p":9,"k":"e","t":0.47,"v":-0.14},{"p":9,"k":"e","t":0.51,"v":-0.08},{"p":9,"k":"e","t":0.55,"v":-0.17},{"p":9,"k":"e","t":0.58,"v":-0.14},{"p":9,"k":"e","t":0.62,"v":-0.22},{"p":9,"k":"e","t":0.66,"v":-0.17},{"p":9,"k":"e","t":0.71,"v":-0.08},{"p":9,"k":"e","t":0.76,"v":-0.03},{"p":9,"k":"e","t":0.81,"v":0.03},{"p":9,"k":"e","t":0.86,"v":-0.17},{"p":9,"k":"e","t":0.91,"v":-0.22},{"p":9,"k":"e","t":0.94,"v":1.11},{"p":9,"k":"e","t":0.96,"v":-0.50},{"p":9,"k":"e","t":0.99,"v":-0.41},{"p":9,"k":"e","t":1.02,"v":-0.28},{"p":9,"k":"e","t":1.06,"v":-0.48},{"p":9,"k":"e","t":1.10,"v":-0.26},{"p":9,"k":"e","t":1.15,"v":-0.14},{"p":9,"k":"e","t":1.20,"v":-0.08},{"p":9,"k":"e","t":1.25,"v":-0.03},{"p":9,"k":"e","t":1.30,"v":0.03},{"p":9,"k":"e","t":1.35,"v":0.08},{"p":9,"k":"e","t":1.39,"v":0.00},{"p":9,"k":"e","t":1.44,"v":-0.14},{"p":9,"k":"e","t":1.49,"v":-0.19},{"p":9,"k":"e","t":1.54,"v":-0.14},{"p":9,"k":"e","t":1.59,"v":-0.22},{"p":9,"k":"e","t":1.64,"v":-0.17},{"p":9,"k":"e","t":1.69,"v":-0.11},{"p":9,"k":"e","t":1.73,"v":-0.14},{"p":9,"k":"e","t":1.78,"v":-0.19},{"p":9,"k":"e","t":1.83,"v":-0.14},{"p":9,"k":"e","t":1.88,"v":-0.22},{"p":9,"k":"e","t":1.93,"v":-0.17},{"p":9,"k":"e","t":1.96,"v":1.41},{"p":9,"k":"e","t":1.99,"v":-0.28},{"p":9,"k":"e","t":2.02,"v":-0.41},{"p":9,"k":"e","t":2.06,"v":-0.37},{"p":9,"k":"e","t":2.10,"v":-0.52},{"p":9,"k":"e","t":2.13,"v":-0.30},{"p":9,"k":"e","t":2.18,"v":-0.14},{"p":9,"k":"e","t":2.23,"v":-0.06},{"p":9,"k":"e","t":2.28,"v":0.03},{"p":9,"k":"e","t":2.33,"v":0.00},{"p":9,"k":"e","t":2.38,"v":0.08},{"p":9,"k":"e","t":2.43,"v":-0.03},{"p":9,"k":"e","t":2.48,"v":-0.17},{"p":9,"k":"e","t":2.53,"v":-0.08},{"p":9,"k":"e","t":2.57,"v":-0.17},{"p":9,"k":"e","t":2.62,"v":-0.11},{"p":9,"k":"e","t":2.67,"v":-0.08},{"p":9,"k":"e","t":2.72,"v":-0.14},{"p":9,"k":"e","t":2.77,"v":-0.12},{"p":9,"k":"e","t":2.82,"v":-0.17},{"p":9,"k":"e","t":2.87,"v":-0.14},{"p":9,"k":"e","t":2.91,"v":-0.22},{"p":9,"k":"e","t":2.95,"v":1.39},{"p":9,"k":"e","t":2.98,"v":-0.33},{"p":9,"k":"e","t":3.02,"v":-0.48},{"p":9,"k":"e","t":3.06,"v":-0.56},{"p":9,"k":"e","t":3.09,"v":-0.72},{"p":9,"k":"e","t":3.13,"v":-0.41},{"p":9,"k":"e","t":3.18,"v":-0.22},{"p":9,"k":"e","t":3.23,"v":-0.08},{"p":9,"k":"e","t":3.27,"v":0.00},{"p":9,"k":"e","t":3.32,"v":0.11},{"p":9,"k":"e","t":3.37,"v":0.03},{"p":9,"k":"e","t":3.41,"v":0.14},{"p":9,"k":"e","t":3.45,"v":-0.08},{"p":9,"k":"e","t":3.49,"v":-0.14},{"p":9,"k":"e","t":3.53,"v":-0.22},{"p":9,"k":"e","t":3.57,"v":-0.17},{"p":9,"k":"e","t":3.61,"v":0.00},{"p":9,"k":"e","t":3.65,"v":0.17},{"p":9,"k":"e","t":3.69,"v":0.94},{"p":9,"k":"e","t":3.72,"v":1.61},{"p":9,"k":"e","t":3.75,"v":1.28},{"p":9,"k":"e","t":3.78,"v":-0.39},{"p":9,"k":"e","t":3.82,"v":-1.28},{"p":9,"k":"e","t":3.86,"v":-1.06},{"p":9,"k":"e","t":3.90,"v":-0.89},{"p":9,"k":"e","t":3.94,"v":-0.67},{"p":9,"k":"e","t":3.98,"v":-0.50}
]},
"facet": {"field": "p", "type": "ordinal", "header": null},
"resolve": {"axis": {"x": "independent", "y": "independent"}},
"spec": {
  "width": 196,
  "height": 146,
  "encoding": {
    "x": {"field": "t", "type": "quantitative", "scale": {"domain": [-0.877, 4.854], "nice": false, "zero": false},
      "axis": {"values": [0, 1, 2, 3], "domain": false, "ticks": false, "grid": false, "offset": -26, "labelPadding": 2, "labelColor": "#e8e8e8", "labelFontSize": 6, "labelFlush": false, "title": "time (s)", "titleColor": "#e8e8e8", "titleFontSize": 6, "titleFontWeight": "normal", "titlePadding": 0}},
    "y": {"field": "v", "type": "quantitative", "scale": {"domain": [-2.367, 2.5], "nice": false, "zero": false}, "axis": null}
  },
  "layer": [
    {"transform": [{"filter": "datum.k == 'e'"}], "mark": {"type": "line", "color": "#f4f4f4", "strokeWidth": 1.15}},
    {"transform": [{"filter": "datum.k == 'd'"}], "mark": {"type": "rule", "color": "white", "strokeWidth": 0.8, "strokeDash": [1, 1]}, "encoding": {"x2": {"field": "t2"}}},
    {"transform": [{"filter": "datum.k == 'b'"}], "mark": {"type": "point", "shape": "triangle-down", "filled": true, "color": "white", "size": 12, "opacity": 1}},
    {"transform": [{"filter": "datum.k == 's'"}], "mark": {"type": "tick", "orient": "vertical", "color": "white", "size": 3, "thickness": 1}},
    {"transform": [{"filter": "datum.k == 'l'"}], "mark": {"type": "text", "color": "#e8e8e8", "fontSize": 6}, "encoding": {"text": {"field": "s"}}}
  ]
}
}
